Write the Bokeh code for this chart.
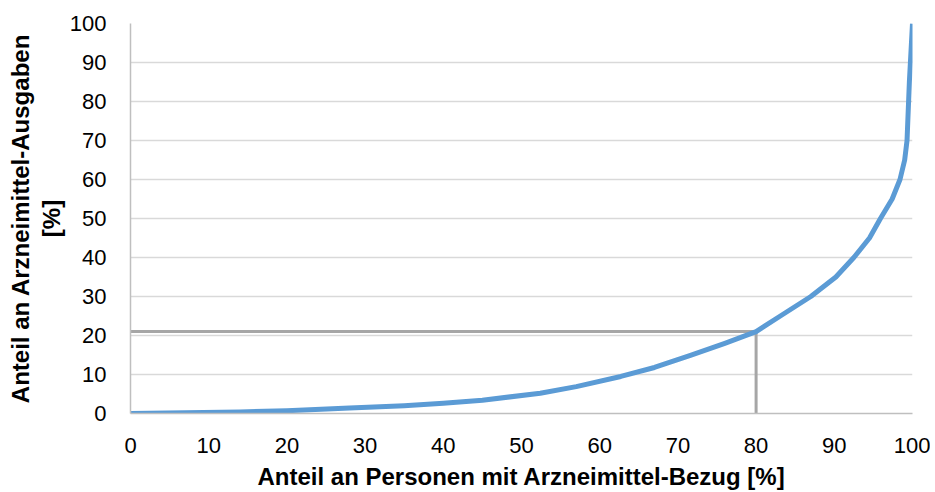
from bokeh.plotting import figure
from bokeh.models import Range1d, FixedTicker, Title
from bokeh.embed import file_html
from bokeh.resources import INLINE

# Lorenz curve
share_persons = [0, 14, 20, 28, 35, 40, 45, 52.4, 57, 62.7, 67, 71.6, 76, 80, 83.1, 87, 90.2,
                 92.5, 94.5, 95.9, 97.4, 98.4, 99.0, 99.3, 99.6, 100]
share_spending = [0, 0.4, 0.7, 1.4, 2.0, 2.6, 3.4, 5.2, 6.9, 9.5, 11.8, 14.9, 18, 21, 25, 30, 35,
                  40, 45, 50, 55, 60, 65, 70, 85, 100]

# marker at 80 % of persons
mark_x = [0, 80, 80]
mark_y = [21, 21, 0]

ticks = [0, 10, 20, 30, 40, 50, 60, 70, 80, 90, 100]

x_title = "Anteil an Personen mit Arzneimittel-Bezug [%]"
y_title_lines = ["[%]", "Anteil an Arzneimittel-Ausgaben"]  # inner line first

FONT = "Liberation Sans"

p = figure(width=930, height=492, output_backend="svg", toolbar_location=None,
           x_range=Range1d(0, 100), y_range=Range1d(0, 100),
           min_border_left=130, min_border_right=18, min_border_top=23, min_border_bottom=79)
p.outline_line_color = None
p.background_fill_color = "white"
p.border_fill_color = "white"

p.xgrid.grid_line_color = None
p.ygrid.grid_line_color = "#d9d9d9"
p.ygrid.grid_line_width = 1.5
p.ygrid.ticker = FixedTicker(ticks=ticks)

for ax in (p.xaxis[0], p.yaxis[0]):
    ax.ticker = FixedTicker(ticks=ticks)
    ax.major_tick_line_color = None
    ax.minor_tick_line_color = None
    ax.axis_line_color = "#bfbfbf"
    ax.axis_line_width = 1.5
    ax.major_label_text_font = FONT
    ax.major_label_text_font_size = "22px"
    ax.major_label_text_color = "black"
    ax.axis_label_text_font = FONT
    ax.axis_label_text_font_size = "24px"
    ax.axis_label_text_font_style = "bold"
    ax.axis_label_text_color = "black"

p.xaxis.major_label_standoff = 18
p.yaxis.major_label_standoff = 18
p.xaxis.axis_label = x_title
p.xaxis.axis_label_standoff = 7

# two-line y title, stacked outward from the axis
for txt, so, lh in zip(y_title_lines, [4, 0], [0.7, 0.9]):
    p.add_layout(Title(text=txt, align="center", standoff=so, offset=0,
                       text_font=FONT, text_font_size="24px", text_font_style="bold",
                       text_color="black", text_line_height=lh), "left")

p.line(mark_x, mark_y, line_color="#a6a6a6", line_width=3)
p.line(share_persons, share_spending, line_color="#5b9bd5", line_width=5, line_join="round")

open("out.html", "w").write(file_html(p, INLINE))
